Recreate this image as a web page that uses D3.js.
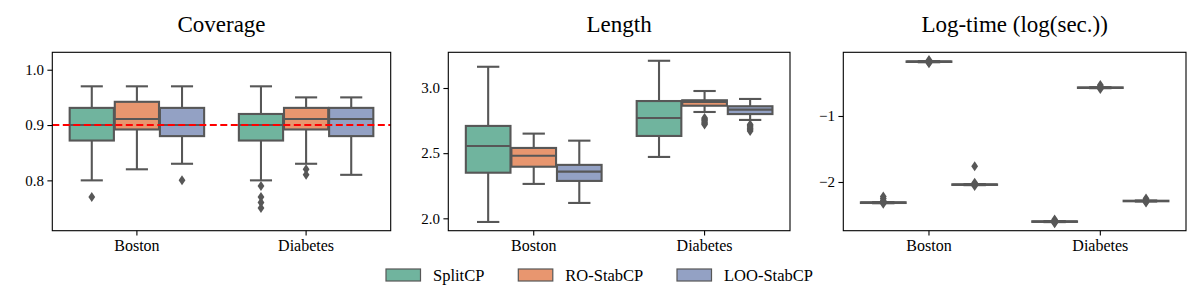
<!DOCTYPE html>
<html>
<head>
<meta charset="utf-8">
<script src="https://cdn.jsdelivr.net/npm/d3@7"></script>
<style>
  body { margin: 0; background: #fff; }
  svg { display: block; }
  text { font-family: "Liberation Serif", "DejaVu Serif", serif; fill: #000; }
</style>
</head>
<body>
<svg id="chart" width="1200" height="300"></svg>
<script>
// ---------- data ----------
const categories = ["Boston", "Diabetes"];
const methods = ["SplitCP", "RO-StabCP", "LOO-StabCP"];
const colors = ["#70b49e", "#e8966f", "#93a1c4"];
const titles = ["Coverage", "Length", "Log-time (log(sec.))"];

// five-number summaries: [lowWhisker, q1, median, q3, highWhisker], per category, per method
const coverageStats = [
  [[0.80, 0.872, 0.90, 0.931, 0.97], [0.82, 0.892, 0.911, 0.942, 0.97], [0.83, 0.88, 0.90, 0.931, 0.97]],
  [[0.80, 0.872, 0.90, 0.92, 0.97], [0.83, 0.892, 0.911, 0.931, 0.95], [0.81, 0.88, 0.911, 0.931, 0.95]]
];
const coverageOutliers = [
  [[0.77], [], [0.80]],
  [[0.79, 0.77, 0.76, 0.75], [0.82, 0.81], []]
];
const lengthStats = [
  [[1.972, 2.35, 2.555, 2.709, 3.163], [2.264, 2.396, 2.48, 2.54, 2.65], [2.118, 2.287, 2.358, 2.41, 2.596]],
  [[2.471, 2.632, 2.77, 2.90, 3.209], [2.816, 2.864, 2.893, 2.906, 2.977], [2.755, 2.80, 2.834, 2.86, 2.916]]
];
const lengthOutliers = [
  [[], [], []],
  [[], [2.72, 2.73, 2.74, 2.75, 2.76, 2.77], [2.67, 2.68, 2.69, 2.70, 2.71, 2.72]]
];
const timeStats = [
  [[-2.322, -2.318, -2.313, -2.308, -2.304], [-0.186, -0.181, -0.177, -0.173, -0.168], [-2.048, -2.044, -2.04, -2.036, -2.032]],
  [[-2.608, -2.604, -2.60, -2.596, -2.592], [-0.579, -0.575, -0.571, -0.567, -0.563], [-2.296, -2.292, -2.288, -2.284, -2.280]]
];
const timeOutliers = [
  [[-2.22, -2.25, -2.28, -2.33], [-0.15, -0.165, -0.19, -0.20], [-1.76, -2.01, -2.03, -2.06]],
  [[-2.57, -2.585, -2.615, -2.625], [-0.53, -0.55, -0.59], [-2.25, -2.27, -2.30, -2.31]]
];

const coverageTicks = [0.8, 0.9, 1.0];
const lengthTicks = [2.0, 2.5, 3.0];
const timeTicks = [-2, -1];
const coverageTarget = 0.9;

// ---------- layout ----------
const svg = d3.select("#chart");
const plotTop = 52.3, plotBottom = 230.7;
const lineColor = "#575757";

const panels = [
  { x0: 52.3, x1: 390.7, domain: [0.709, 1.0315], stats: coverageStats, outliers: coverageOutliers, ticks: coverageTicks, fmt: d3.format(".1f") },
  { x0: 448.3, x1: 790, domain: [1.905, 3.274], stats: lengthStats, outliers: lengthOutliers, ticks: lengthTicks, fmt: d3.format(".1f") },
  { x0: 843.3, x1: 1186, domain: [-2.738, -0.035], stats: timeStats, outliers: timeOutliers, ticks: timeTicks, fmt: d3.format("d") }
];

panels.forEach((p, pi) => {
  const g = svg.append("g");
  const x = d3.scaleBand().domain(categories).range([p.x0, p.x1]).paddingInner(0.2).paddingOuter(0.1);
  const xh = d3.scaleBand().domain(methods).range([0, x.bandwidth()]);
  const y = d3.scaleLinear().domain(p.domain).range([plotBottom, plotTop]);
  const bw = xh.bandwidth() * 0.98;

  categories.forEach((cat, ci) => {
    methods.forEach((m, mi) => {
      const s = p.stats[ci][mi];
      const cx = x(cat) + xh(m) + xh.bandwidth() / 2;
      const bg = g.append("g");
      bg.append("line").attr("x1", cx).attr("x2", cx).attr("y1", y(s[0])).attr("y2", y(s[1]))
        .attr("stroke", lineColor).attr("stroke-width", 2.1);
      bg.append("line").attr("x1", cx).attr("x2", cx).attr("y1", y(s[3])).attr("y2", y(s[4]))
        .attr("stroke", lineColor).attr("stroke-width", 2.1);
      [s[0], s[4]].forEach(v => {
        bg.append("line").attr("x1", cx - bw / 4).attr("x2", cx + bw / 4)
          .attr("y1", y(v)).attr("y2", y(v))
          .attr("stroke", lineColor).attr("stroke-width", 2.1);
      });
      bg.append("rect")
        .attr("x", cx - bw / 2).attr("width", bw)
        .attr("y", y(s[3])).attr("height", Math.max(0.01, y(s[1]) - y(s[3])))
        .attr("fill", colors[mi]).attr("stroke", lineColor).attr("stroke-width", 2.1);
      bg.append("line").attr("x1", cx - bw / 2).attr("x2", cx + bw / 2)
        .attr("y1", y(s[2])).attr("y2", y(s[2]))
        .attr("stroke", lineColor).attr("stroke-width", 2.1);
      bg.selectAll("path.out").data(p.outliers[ci][mi]).join("path")
        .attr("class", "out")
        .attr("transform", d => `translate(${cx},${y(d)})`)
        .attr("d", "M0,-5L3.4,0L0,5L-3.4,0Z")
        .attr("fill", lineColor);
    });
  });

  if (pi === 0) {
    g.append("line")
      .attr("x1", p.x0).attr("x2", p.x1)
      .attr("y1", y(coverageTarget)).attr("y2", y(coverageTarget))
      .attr("stroke", "#ff0000").attr("stroke-width", 2)
      .attr("stroke-dasharray", "7,3.5");
  }

  g.append("rect").attr("x", p.x0).attr("y", plotTop).attr("width", p.x1 - p.x0).attr("height", plotBottom - plotTop)
    .attr("fill", "none").attr("stroke", "#000").attr("stroke-width", 1.1);

  const yAxis = d3.axisLeft(y).tickValues(p.ticks).tickFormat(p.fmt).tickSize(4.9).tickPadding(3.5);
  const ya = g.append("g").attr("transform", `translate(${p.x0},0)`).call(yAxis)
    .attr("font-family", "Liberation Serif").attr("font-size", 15);
  ya.select(".domain").remove();
  ya.selectAll(".tick line").attr("stroke", "#000").attr("stroke-width", 1.1);
  ya.selectAll(".tick text").attr("fill", "#000");

  const xAxis = d3.axisBottom(x).tickSize(4.9).tickPadding(4);
  const xa = g.append("g").attr("transform", `translate(0,${plotBottom})`).call(xAxis)
    .attr("font-family", "Liberation Serif").attr("font-size", 16);
  xa.select(".domain").remove();
  xa.selectAll(".tick line").attr("stroke", "#000").attr("stroke-width", 1.1);
  xa.selectAll(".tick text").attr("fill", "#000");

  g.append("text").attr("x", (p.x0 + p.x1) / 2).attr("y", 32)
    .attr("text-anchor", "middle").style("font-size", "23px")
    .text(titles[pi]);
});

// ---------- legend ----------
const legendX = [386, 518.3, 677];
const lg = svg.append("g");
methods.forEach((m, i) => {
  lg.append("rect").attr("x", legendX[i]).attr("y", 269).attr("width", 34.5).attr("height", 12)
    .attr("fill", colors[i]).attr("stroke", lineColor).attr("stroke-width", 1.2);
  lg.append("text").attr("x", legendX[i] + 47).attr("y", 281)
    .style("font-size", "16.5px").text(m);
});
</script>
</body>
</html>
